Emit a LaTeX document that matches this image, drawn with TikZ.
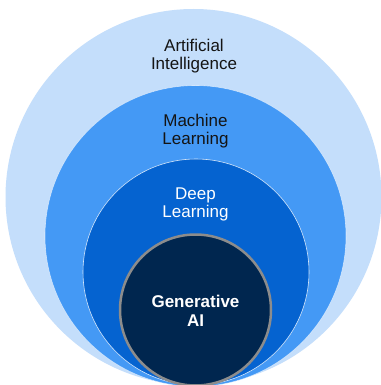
\documentclass[tikz,border=0pt]{standalone}
\usepackage{fontspec}
\setmainfont{Liberation Sans}
\definecolor{aiblue}{HTML}{C4DEFB}
\definecolor{mlblue}{HTML}{4499F5}
\definecolor{dlblue}{HTML}{0563D0}
\definecolor{genblue}{HTML}{00264F}
\definecolor{darktext}{HTML}{141414}
\begin{document}
\begin{tikzpicture}[x=1pt,y=-1pt,
  lbl/.style={align=center,anchor=base,font=\fontsize{17}{18.5}\selectfont,inner sep=0pt}]
\useasboundingbox (0,0) rectangle (380,385);
\fill[white] (0,0) rectangle (380,385);
\fill[aiblue] (193.5,197) circle[radius=188];
\filldraw[fill=mlblue,draw=white,draw opacity=0.6,line width=0.6pt] (195.5,236) circle[radius=150.5];
\filldraw[fill=dlblue,draw=white,draw opacity=0.8,line width=0.6pt] (196,272) circle[radius=113];
\filldraw[fill=genblue,draw=gray!90,line width=2.5pt] (195.5,310) circle[radius=75.5];
\node[lbl,text=darktext] (ai) at (194,70) {Artificial\\Intelligence};
\node[lbl,text=darktext] (ml) at (195.5,144.5) {Machine\\Learning};
\node[lbl,text=white] (dl) at (195.5,217.5) {Deep\\Learning};
\node[lbl,text=white,font=\fontsize{17}{19}\selectfont\bfseries] (gen) at (195.5,326.5) {Generative\\AI};
\end{tikzpicture}
\end{document}
